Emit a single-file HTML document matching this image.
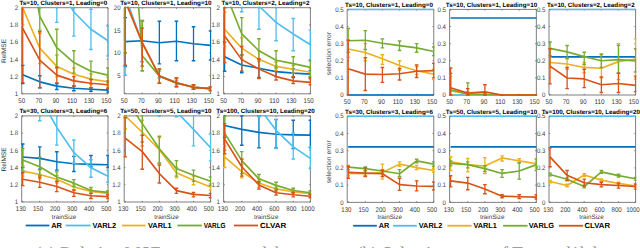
<!DOCTYPE html><html><head><meta charset="utf-8"><style>html,body{margin:0;padding:0;background:#fff;overflow:hidden}svg{display:block}</style></head><body>
<svg width="640" height="248" viewBox="0 0 640 248" font-family="Liberation Sans, sans-serif" text-rendering="geometricPrecision">
<rect width="640" height="248" fill="#fff"/>
<clipPath id="c1"><rect x="20.9" y="6.8" width="87.9" height="87.9"/></clipPath>
<text x="63.35" y="5.2" font-size="6.27" font-weight="bold" text-anchor="middle" fill="#000">Ts=10, Clusters=1, Leading=0</text>
<text x="18.1" y="96" font-size="6.6" text-anchor="end" fill="#404040" textLength="3.38" lengthAdjust="spacingAndGlyphs">1</text>
<text x="18.1" y="78.78" font-size="6.6" text-anchor="end" fill="#404040" textLength="8.46" lengthAdjust="spacingAndGlyphs">1.2</text>
<text x="18.1" y="61.56" font-size="6.6" text-anchor="end" fill="#404040" textLength="8.46" lengthAdjust="spacingAndGlyphs">1.4</text>
<text x="18.1" y="44.34" font-size="6.6" text-anchor="end" fill="#404040" textLength="8.46" lengthAdjust="spacingAndGlyphs">1.6</text>
<text x="18.1" y="27.12" font-size="6.6" text-anchor="end" fill="#404040" textLength="8.46" lengthAdjust="spacingAndGlyphs">1.8</text>
<text x="18.1" y="9.9" font-size="6.6" text-anchor="end" fill="#404040" textLength="3.38" lengthAdjust="spacingAndGlyphs">2</text>
<text x="21.7" y="103.1" font-size="6.8" text-anchor="middle" fill="#404040" textLength="6.76" lengthAdjust="spacingAndGlyphs">50</text>
<text x="38.76" y="103.1" font-size="6.8" text-anchor="middle" fill="#404040" textLength="6.76" lengthAdjust="spacingAndGlyphs">70</text>
<text x="55.82" y="103.1" font-size="6.8" text-anchor="middle" fill="#404040" textLength="6.76" lengthAdjust="spacingAndGlyphs">90</text>
<text x="72.08" y="103.1" font-size="6.8" text-anchor="middle" fill="#404040" textLength="10.14" lengthAdjust="spacingAndGlyphs">110</text>
<text x="89.14" y="103.1" font-size="6.8" text-anchor="middle" fill="#404040" textLength="10.14" lengthAdjust="spacingAndGlyphs">130</text>
<text x="106.2" y="103.1" font-size="6.8" text-anchor="middle" fill="#404040" textLength="10.14" lengthAdjust="spacingAndGlyphs">150</text>
<path d="M21.7 7.7H108V93.8H21.7ZM22.7 93.8v-1.2M22.7 7.7v1.2M39.76 93.8v-1.2M39.76 7.7v1.2M56.82 93.8v-1.2M56.82 7.7v1.2M73.88 93.8v-1.2M73.88 7.7v1.2M90.94 93.8v-1.2M90.94 7.7v1.2M108 93.8v-1.2M108 7.7v1.2M21.7 93.8h1.2M108 93.8h-1.2M21.7 76.58h1.2M108 76.58h-1.2M21.7 59.36h1.2M108 59.36h-1.2M21.7 42.14h1.2M108 42.14h-1.2M21.7 24.92h1.2M108 24.92h-1.2M21.7 7.7h1.2M108 7.7h-1.2" fill="none" stroke="#707070" stroke-width="0.9"/>
<g clip-path="url(#c1)" fill="none" stroke-linecap="butt" stroke-linejoin="round">
<path d="M22.7 83.47V65.39M39.76 87.77V75.72M56.82 89.49V83.47M73.88 90.79V86.05M90.94 91.22V87.77M108 92.08V88.2" stroke="#0072BD" stroke-width="1.3"/>
<path d="M20.9 83.47H24.5M20.9 65.39H24.5M37.96 87.77H41.56M37.96 75.72H41.56M55.02 89.49H58.62M55.02 83.47H58.62M72.08 90.79H75.68M72.08 86.05H75.68M89.14 91.22H92.74M89.14 87.77H92.74M106.2 92.08H109.8M106.2 88.2H109.8" stroke="#0072BD" stroke-width="1.4"/>
<polyline points="22.7,74.69 39.76,81.83 56.82,86.14 73.88,88.2 90.94,89.24 108,90.1" stroke="#0072BD" stroke-width="1.65"/>
<path d="M22.7 -9.52V-78.4M39.76 7.7V-78.4M56.82 22.34V-78.4M73.88 36.11V-35.35M90.94 49.46V9.42M108 55.92V25.78" stroke="#4DBEEE" stroke-width="1.3"/>
<path d="M20.9 -9.52H24.5M20.9 -78.4H24.5M37.96 7.7H41.56M37.96 -78.4H41.56M55.02 22.34H58.62M55.02 -78.4H58.62M72.08 36.11H75.68M72.08 -35.35H75.68M89.14 49.46H92.74M89.14 9.42H92.74M106.2 55.92H109.8M106.2 25.78H109.8" stroke="#4DBEEE" stroke-width="1.4"/>
<polyline points="22.7,-43.96 39.76,-31.05 56.82,-18.13 73.88,12.01 90.94,29.23 108,40.76" stroke="#4DBEEE" stroke-width="1.65"/>
<path d="M22.7 24.92V-9.52M39.76 63.66V33.53M56.82 76.58V55.06M73.88 80.89V67.97M90.94 84.33V74M108 86.05V77.44" stroke="#EDB120" stroke-width="1.3"/>
<path d="M20.9 24.92H24.5M20.9 -9.52H24.5M37.96 63.66H41.56M37.96 33.53H41.56M55.02 76.58H58.62M55.02 55.06H58.62M72.08 80.89H75.68M72.08 67.97H75.68M89.14 84.33H92.74M89.14 74H92.74M106.2 86.05H109.8M106.2 77.44H109.8" stroke="#EDB120" stroke-width="1.4"/>
<polyline points="22.7,7.7 39.76,48.17 56.82,66.42 73.88,74.17 90.94,79.16 108,81.75" stroke="#EDB120" stroke-width="1.65"/>
<path d="M22.7 -0.91V-35.35M39.76 30.09V-0.91M56.82 67.97V29.23M73.88 73.14V50.75M90.94 79.16V61.08M108 82.61V67.97" stroke="#77AC30" stroke-width="1.3"/>
<path d="M20.9 -0.91H24.5M20.9 -35.35H24.5M37.96 30.09H41.56M37.96 -0.91H41.56M55.02 67.97H58.62M55.02 29.23H58.62M72.08 73.14H75.68M72.08 50.75H75.68M89.14 79.16H92.74M89.14 61.08H92.74M106.2 82.61H109.8M106.2 67.97H109.8" stroke="#77AC30" stroke-width="1.4"/>
<polyline points="22.7,-76.68 39.76,16.31 56.82,47.74 73.88,62.55 90.94,71.24 108,75.12" stroke="#77AC30" stroke-width="1.65"/>
<path d="M22.7 82.61V-35.35M39.76 87.77V31.81M56.82 82.87V67.11M73.88 86.05V76.58M90.94 87.77V79.59M108 88.63V80.89" stroke="#D95319" stroke-width="1.3"/>
<path d="M20.9 82.61H24.5M20.9 -35.35H24.5M37.96 87.77H41.56M37.96 31.81H41.56M55.02 82.87H58.62M55.02 67.11H58.62M72.08 86.05H75.68M72.08 76.58H75.68M89.14 87.77H92.74M89.14 79.59H92.74M106.2 88.63H109.8M106.2 80.89H109.8" stroke="#D95319" stroke-width="1.4"/>
<polyline points="22.7,28.36 39.76,60.05 56.82,75.12 73.88,80.89 90.94,83.21 108,84.76" stroke="#D95319" stroke-width="1.65"/>
</g>
<clipPath id="c2"><rect x="123.4" y="6.8" width="88" height="87.9"/></clipPath>
<text x="165.9" y="5.2" font-size="6.27" font-weight="bold" text-anchor="middle" fill="#000">Ts=10, Clusters=1, Leading=10</text>
<text x="120.6" y="77.87" font-size="6.6" text-anchor="end" fill="#404040" textLength="3.38" lengthAdjust="spacingAndGlyphs">5</text>
<text x="120.6" y="55.22" font-size="6.6" text-anchor="end" fill="#404040" textLength="6.76" lengthAdjust="spacingAndGlyphs">10</text>
<text x="120.6" y="32.56" font-size="6.6" text-anchor="end" fill="#404040" textLength="6.76" lengthAdjust="spacingAndGlyphs">15</text>
<text x="120.6" y="9.9" font-size="6.6" text-anchor="end" fill="#404040" textLength="6.76" lengthAdjust="spacingAndGlyphs">20</text>
<text x="124.2" y="103.1" font-size="6.8" text-anchor="middle" fill="#404040" textLength="6.76" lengthAdjust="spacingAndGlyphs">50</text>
<text x="141.28" y="103.1" font-size="6.8" text-anchor="middle" fill="#404040" textLength="6.76" lengthAdjust="spacingAndGlyphs">70</text>
<text x="158.36" y="103.1" font-size="6.8" text-anchor="middle" fill="#404040" textLength="6.76" lengthAdjust="spacingAndGlyphs">90</text>
<text x="174.64" y="103.1" font-size="6.8" text-anchor="middle" fill="#404040" textLength="10.14" lengthAdjust="spacingAndGlyphs">110</text>
<text x="191.72" y="103.1" font-size="6.8" text-anchor="middle" fill="#404040" textLength="10.14" lengthAdjust="spacingAndGlyphs">130</text>
<text x="208.8" y="103.1" font-size="6.8" text-anchor="middle" fill="#404040" textLength="10.14" lengthAdjust="spacingAndGlyphs">150</text>
<path d="M124.2 7.7H210.6V93.8H124.2ZM125.2 93.8v-1.2M125.2 7.7v1.2M142.28 93.8v-1.2M142.28 7.7v1.2M159.36 93.8v-1.2M159.36 7.7v1.2M176.44 93.8v-1.2M176.44 7.7v1.2M193.52 93.8v-1.2M193.52 7.7v1.2M210.6 93.8v-1.2M210.6 7.7v1.2M124.2 75.67h1.2M210.6 75.67h-1.2M124.2 53.02h1.2M210.6 53.02h-1.2M124.2 30.36h1.2M210.6 30.36h-1.2M124.2 7.7h1.2M210.6 7.7h-1.2" fill="none" stroke="#707070" stroke-width="0.9"/>
<g clip-path="url(#c2)" fill="none" stroke-linecap="butt" stroke-linejoin="round">
<path d="M125.2 66.43V17.67M142.28 61.63V20.39M159.36 63.89V21.29M176.44 60.72V21.29M193.52 60.72V26.73M210.6 60.04V31.04" stroke="#0072BD" stroke-width="1.3"/>
<path d="M123.4 66.43H127M123.4 17.67H127M140.48 61.63H144.08M140.48 20.39H144.08M157.56 63.89H161.16M157.56 21.29H161.16M174.64 60.72H178.24M174.64 21.29H178.24M191.72 60.72H195.32M191.72 26.73H195.32M208.8 60.04H212.4M208.8 31.04H212.4" stroke="#0072BD" stroke-width="1.4"/>
<polyline points="125.2,41.69 142.28,40.78 159.36,42.73 176.44,41.23 193.52,43.73 210.6,45.31" stroke="#0072BD" stroke-width="1.65"/>
<path d="M125.2 75.22V-82.93M142.28 61.63V20.84M159.36 77.94V71.14M176.44 84.74V80.21M193.52 89.27V85.19M210.6 90.63V87" stroke="#4DBEEE" stroke-width="1.3"/>
<path d="M123.4 75.22H127M123.4 -82.93H127M140.48 61.63H144.08M140.48 20.84H144.08M157.56 77.94H161.16M157.56 71.14H161.16M174.64 84.74H178.24M174.64 80.21H178.24M191.72 89.27H195.32M191.72 85.19H195.32M208.8 90.63H212.4M208.8 87H212.4" stroke="#4DBEEE" stroke-width="1.4"/>
<polyline points="125.2,-3.63 142.28,43.05 159.36,75.67 176.44,82.88 193.52,87.32 210.6,88.68" stroke="#4DBEEE" stroke-width="1.65"/>
<path d="M125.2 53.02V-82.93M142.28 71.14V21.29M159.36 82.47V69.78M176.44 86.55V78.39M193.52 89.27V84.74M210.6 90.63V87" stroke="#EDB120" stroke-width="1.3"/>
<path d="M123.4 53.02H127M123.4 -82.93H127M140.48 71.14H144.08M140.48 21.29H144.08M157.56 82.47H161.16M157.56 69.78H161.16M174.64 86.55H178.24M174.64 78.39H178.24M191.72 89.27H195.32M191.72 84.74H195.32M208.8 90.63H212.4M208.8 87H212.4" stroke="#EDB120" stroke-width="1.4"/>
<polyline points="125.2,0.9 142.28,43.05 159.36,76.13 176.44,82.88 193.52,87.32 210.6,88.68" stroke="#EDB120" stroke-width="1.65"/>
<path d="M125.2 53.02V-82.93M142.28 70.69V21.29M159.36 83.38V68.88M176.44 86.78V77.94M193.52 89.27V84.74M210.6 90.63V86.78" stroke="#77AC30" stroke-width="1.3"/>
<path d="M123.4 53.02H127M123.4 -82.93H127M140.48 70.69H144.08M140.48 21.29H144.08M157.56 83.38H161.16M157.56 68.88H161.16M174.64 86.78H178.24M174.64 77.94H178.24M191.72 89.27H195.32M191.72 84.74H195.32M208.8 90.63H212.4M208.8 86.78H212.4" stroke="#77AC30" stroke-width="1.4"/>
<polyline points="125.2,-173.56 142.28,55.73 159.36,76.13 176.44,82.88 193.52,87.32 210.6,88.68" stroke="#77AC30" stroke-width="1.65"/>
<path d="M125.2 65.25V-82.93M142.28 66.16V28.09M159.36 83.38V68.88M176.44 86.78V77.94M193.52 89.27V84.74M210.6 90.63V86.78" stroke="#D95319" stroke-width="1.3"/>
<path d="M123.4 65.25H127M123.4 -82.93H127M140.48 66.16H144.08M140.48 28.09H144.08M157.56 83.38H161.16M157.56 68.88H161.16M174.64 86.78H178.24M174.64 77.94H178.24M191.72 89.27H195.32M191.72 84.74H195.32M208.8 90.63H212.4M208.8 86.78H212.4" stroke="#D95319" stroke-width="1.4"/>
<polyline points="125.2,0.9 142.28,42.59 159.36,76.08 176.44,82.88 193.52,87.32 210.6,88.68" stroke="#D95319" stroke-width="1.65"/>
</g>
<clipPath id="c3"><rect x="222.8" y="6.8" width="88.4" height="87.9"/></clipPath>
<text x="265.5" y="5.2" font-size="6.27" font-weight="bold" text-anchor="middle" fill="#000">Ts=10, Clusters=2, Leading=2</text>
<text x="220" y="96" font-size="6.6" text-anchor="end" fill="#404040" textLength="3.38" lengthAdjust="spacingAndGlyphs">1</text>
<text x="220" y="78.78" font-size="6.6" text-anchor="end" fill="#404040" textLength="8.46" lengthAdjust="spacingAndGlyphs">1.2</text>
<text x="220" y="61.56" font-size="6.6" text-anchor="end" fill="#404040" textLength="8.46" lengthAdjust="spacingAndGlyphs">1.4</text>
<text x="220" y="44.34" font-size="6.6" text-anchor="end" fill="#404040" textLength="8.46" lengthAdjust="spacingAndGlyphs">1.6</text>
<text x="220" y="27.12" font-size="6.6" text-anchor="end" fill="#404040" textLength="8.46" lengthAdjust="spacingAndGlyphs">1.8</text>
<text x="220" y="9.9" font-size="6.6" text-anchor="end" fill="#404040" textLength="3.38" lengthAdjust="spacingAndGlyphs">2</text>
<text x="223.6" y="103.1" font-size="6.8" text-anchor="middle" fill="#404040" textLength="6.76" lengthAdjust="spacingAndGlyphs">50</text>
<text x="240.76" y="103.1" font-size="6.8" text-anchor="middle" fill="#404040" textLength="6.76" lengthAdjust="spacingAndGlyphs">70</text>
<text x="257.92" y="103.1" font-size="6.8" text-anchor="middle" fill="#404040" textLength="6.76" lengthAdjust="spacingAndGlyphs">90</text>
<text x="274.28" y="103.1" font-size="6.8" text-anchor="middle" fill="#404040" textLength="10.14" lengthAdjust="spacingAndGlyphs">110</text>
<text x="291.44" y="103.1" font-size="6.8" text-anchor="middle" fill="#404040" textLength="10.14" lengthAdjust="spacingAndGlyphs">130</text>
<text x="308.6" y="103.1" font-size="6.8" text-anchor="middle" fill="#404040" textLength="10.14" lengthAdjust="spacingAndGlyphs">150</text>
<path d="M223.6 7.7H310.4V93.8H223.6ZM224.6 93.8v-1.2M224.6 7.7v1.2M241.76 93.8v-1.2M241.76 7.7v1.2M258.92 93.8v-1.2M258.92 7.7v1.2M276.08 93.8v-1.2M276.08 7.7v1.2M293.24 93.8v-1.2M293.24 7.7v1.2M310.4 93.8v-1.2M310.4 7.7v1.2M223.6 93.8h1.2M310.4 93.8h-1.2M223.6 76.58h1.2M310.4 76.58h-1.2M223.6 59.36h1.2M310.4 59.36h-1.2M223.6 42.14h1.2M310.4 42.14h-1.2M223.6 24.92h1.2M310.4 24.92h-1.2M223.6 7.7h1.2M310.4 7.7h-1.2" fill="none" stroke="#707070" stroke-width="0.9"/>
<g clip-path="url(#c3)" fill="none" stroke-linecap="butt" stroke-linejoin="round">
<path d="M224.6 71.24V42.14M241.76 72.79V55.06M258.92 77.44V59.36M276.08 76.58V66.25M293.24 77.44V68.83M310.4 77.44V70.55" stroke="#0072BD" stroke-width="1.3"/>
<path d="M222.8 71.24H226.4M222.8 42.14H226.4M239.96 72.79H243.56M239.96 55.06H243.56M257.12 77.44H260.72M257.12 59.36H260.72M274.28 76.58H277.88M274.28 66.25H277.88M291.44 77.44H295.04M291.44 68.83H295.04M308.6 77.44H312.2M308.6 70.55H312.2" stroke="#0072BD" stroke-width="1.4"/>
<polyline points="224.6,56.69 241.76,65.04 258.92,68.31 276.08,71.59 293.24,73.14 310.4,74.08" stroke="#0072BD" stroke-width="1.65"/>
<path d="M224.6 -0.91V-52.57M241.76 11.75V-35.35M258.92 29.23V-18.13M276.08 40.76V3.4M293.24 50.75V18.55M310.4 61.08V30.09" stroke="#4DBEEE" stroke-width="1.3"/>
<path d="M222.8 -0.91H226.4M222.8 -52.57H226.4M239.96 11.75H243.56M239.96 -35.35H243.56M257.12 29.23H260.72M257.12 -18.13H260.72M274.28 40.76H277.88M274.28 3.4H277.88M291.44 50.75H295.04M291.44 18.55H295.04M308.6 61.08H312.2M308.6 30.09H312.2" stroke="#4DBEEE" stroke-width="1.4"/>
<polyline points="224.6,-26.74 241.76,-9.52 258.92,5.98 276.08,22.34 293.24,33.96 310.4,44.72" stroke="#4DBEEE" stroke-width="1.65"/>
<path d="M224.6 46.44V12.01M241.76 59.36V37.84M258.92 67.97V50.75M276.08 70.55V61.94M293.24 73.14V65.39M310.4 76.58V67.97" stroke="#EDB120" stroke-width="1.3"/>
<path d="M222.8 46.44H226.4M222.8 12.01H226.4M239.96 59.36H243.56M239.96 37.84H243.56M257.12 67.97H260.72M257.12 50.75H260.72M274.28 70.55H277.88M274.28 61.94H277.88M291.44 73.14H295.04M291.44 65.39H295.04M308.6 76.58H312.2M308.6 67.97H312.2" stroke="#EDB120" stroke-width="1.4"/>
<polyline points="224.6,29.23 241.76,48.17 258.92,59.36 276.08,66.42 293.24,69.26 310.4,72.28" stroke="#EDB120" stroke-width="1.65"/>
<path d="M224.6 7.7V-26.74M241.76 55.06V17.6M258.92 61.08V38.7M276.08 67.97V50.75M293.24 73.14V56.78M310.4 76.58V60.22" stroke="#77AC30" stroke-width="1.3"/>
<path d="M222.8 7.7H226.4M222.8 -26.74H226.4M239.96 55.06H243.56M239.96 17.6H243.56M257.12 61.08H260.72M257.12 38.7H260.72M274.28 67.97H277.88M274.28 50.75H277.88M291.44 73.14H295.04M291.44 56.78H295.04M308.6 76.58H312.2M308.6 60.22H312.2" stroke="#77AC30" stroke-width="1.4"/>
<polyline points="224.6,-9.52 241.76,33.96 258.92,50.75 276.08,60.22 293.24,63.66 310.4,67.37" stroke="#77AC30" stroke-width="1.65"/>
<path d="M224.6 62.55V-9.52M241.76 71.24V46.44M258.92 78.56V58.67M276.08 80.02V71.41M293.24 83.47V76.58M310.4 84.76V78.73" stroke="#D95319" stroke-width="1.3"/>
<path d="M222.8 62.55H226.4M222.8 -9.52H226.4M239.96 71.24H243.56M239.96 46.44H243.56M257.12 78.56H260.72M257.12 58.67H260.72M274.28 80.02H277.88M274.28 71.41H277.88M291.44 83.47H295.04M291.44 76.58H295.04M308.6 84.76H312.2M308.6 78.73H312.2" stroke="#D95319" stroke-width="1.4"/>
<polyline points="224.6,36.11 241.76,59.62 258.92,68.92 276.08,76.58 293.24,80.89 310.4,82.43" stroke="#D95319" stroke-width="1.65"/>
</g>
<clipPath id="c4"><rect x="20.9" y="115" width="87.9" height="87.9"/></clipPath>
<text x="63.35" y="113.4" font-size="6.27" font-weight="bold" text-anchor="middle" fill="#000">Ts=30, Clusters=3, Leading=6</text>
<text x="18.1" y="204.2" font-size="6.6" text-anchor="end" fill="#404040" textLength="3.38" lengthAdjust="spacingAndGlyphs">1</text>
<text x="18.1" y="186.98" font-size="6.6" text-anchor="end" fill="#404040" textLength="8.46" lengthAdjust="spacingAndGlyphs">1.2</text>
<text x="18.1" y="169.76" font-size="6.6" text-anchor="end" fill="#404040" textLength="8.46" lengthAdjust="spacingAndGlyphs">1.4</text>
<text x="18.1" y="152.54" font-size="6.6" text-anchor="end" fill="#404040" textLength="8.46" lengthAdjust="spacingAndGlyphs">1.6</text>
<text x="18.1" y="135.32" font-size="6.6" text-anchor="end" fill="#404040" textLength="8.46" lengthAdjust="spacingAndGlyphs">1.8</text>
<text x="18.1" y="118.1" font-size="6.6" text-anchor="end" fill="#404040" textLength="3.38" lengthAdjust="spacingAndGlyphs">2</text>
<text x="20.9" y="211.3" font-size="6.8" text-anchor="middle" fill="#404040" textLength="10.14" lengthAdjust="spacingAndGlyphs">130</text>
<text x="37.96" y="211.3" font-size="6.8" text-anchor="middle" fill="#404040" textLength="10.14" lengthAdjust="spacingAndGlyphs">150</text>
<text x="55.02" y="211.3" font-size="6.8" text-anchor="middle" fill="#404040" textLength="10.14" lengthAdjust="spacingAndGlyphs">200</text>
<text x="72.08" y="211.3" font-size="6.8" text-anchor="middle" fill="#404040" textLength="10.14" lengthAdjust="spacingAndGlyphs">300</text>
<text x="89.14" y="211.3" font-size="6.8" text-anchor="middle" fill="#404040" textLength="10.14" lengthAdjust="spacingAndGlyphs">400</text>
<text x="106.2" y="211.3" font-size="6.8" text-anchor="middle" fill="#404040" textLength="10.14" lengthAdjust="spacingAndGlyphs">500</text>
<text x="64.05" y="219" font-size="6.3" text-anchor="middle" fill="#404040">trainSize</text>
<path d="M21.7 115.9H108V202H21.7ZM22.7 202v-1.2M22.7 115.9v1.2M39.76 202v-1.2M39.76 115.9v1.2M56.82 202v-1.2M56.82 115.9v1.2M73.88 202v-1.2M73.88 115.9v1.2M90.94 202v-1.2M90.94 115.9v1.2M108 202v-1.2M108 115.9v1.2M21.7 202h1.2M108 202h-1.2M21.7 184.78h1.2M108 184.78h-1.2M21.7 167.56h1.2M108 167.56h-1.2M21.7 150.34h1.2M108 150.34h-1.2M21.7 133.12h1.2M108 133.12h-1.2M21.7 115.9h1.2M108 115.9h-1.2" fill="none" stroke="#707070" stroke-width="0.9"/>
<g clip-path="url(#c4)" fill="none" stroke-linecap="butt" stroke-linejoin="round">
<path d="M22.7 167.56V143.97M39.76 169.28V146.9M56.82 170.14V151.72M73.88 171.52V156.37M90.94 166.7V155.51M108 167.56V155.51" stroke="#0072BD" stroke-width="1.3"/>
<path d="M20.9 167.56H24.5M20.9 143.97H24.5M37.96 169.28H41.56M37.96 146.9H41.56M55.02 170.14H58.62M55.02 151.72H58.62M72.08 171.52H75.68M72.08 156.37H75.68M89.14 166.7H92.74M89.14 155.51H92.74M106.2 167.56H109.8M106.2 155.51H109.8" stroke="#0072BD" stroke-width="1.4"/>
<polyline points="22.7,156.97 39.76,158.35 56.82,161.79 73.88,163.77 90.94,164.37 108,164.72" stroke="#0072BD" stroke-width="1.65"/>
<path d="M22.7 107.29V72.85M39.76 120.72V90.07M56.82 145.17V107.29M73.88 163.25V140.01M90.94 177.29V159.81M108 182.2V170.14" stroke="#4DBEEE" stroke-width="1.3"/>
<path d="M20.9 107.29H24.5M20.9 72.85H24.5M37.96 120.72H41.56M37.96 90.07H41.56M55.02 145.17H58.62M55.02 107.29H58.62M72.08 163.25H75.68M72.08 140.01H75.68M89.14 177.29H92.74M89.14 159.81H92.74M106.2 182.2H109.8M106.2 170.14H109.8" stroke="#4DBEEE" stroke-width="1.4"/>
<polyline points="22.7,64.24 39.76,96.96 56.82,127.44 73.88,152.66 90.94,167.65 108,176.34" stroke="#4DBEEE" stroke-width="1.65"/>
<path d="M22.7 176.17V165.84M39.76 178.75V170.14M56.82 183.06V175.31M73.88 189.95V183.92M90.94 193.39V189.09M108 195.11V191.67" stroke="#EDB120" stroke-width="1.3"/>
<path d="M20.9 176.17H24.5M20.9 165.84H24.5M37.96 178.75H41.56M37.96 170.14H41.56M55.02 183.06H58.62M55.02 175.31H58.62M72.08 189.95H75.68M72.08 183.92H75.68M89.14 193.39H92.74M89.14 189.09H92.74M106.2 195.11H109.8M106.2 191.67H109.8" stroke="#EDB120" stroke-width="1.4"/>
<polyline points="22.7,171.09 39.76,174.45 56.82,179.27 73.88,187.02 90.94,191.41 108,193.39" stroke="#EDB120" stroke-width="1.65"/>
<path d="M22.7 171V148.62M39.76 175.31V157.23M56.82 181.34V171.87M73.88 186.5V179.61M90.94 193.39V187.36M108 194.25V190.81" stroke="#77AC30" stroke-width="1.3"/>
<path d="M20.9 171H24.5M20.9 148.62H24.5M37.96 175.31H41.56M37.96 157.23H41.56M55.02 181.34H58.62M55.02 171.87H58.62M72.08 186.5H75.68M72.08 179.61H75.68M89.14 193.39H92.74M89.14 187.36H92.74M106.2 194.25H109.8M106.2 190.81H109.8" stroke="#77AC30" stroke-width="1.4"/>
<polyline points="22.7,159.9 39.76,166.7 56.82,176.94 73.88,183.14 90.94,190.46 108,192.44" stroke="#77AC30" stroke-width="1.65"/>
<path d="M22.7 185.64V172.73M39.76 187.36V177.03M56.82 191.67V181.34M73.88 196.4V189.95M90.94 198.56V193.39M108 198.56V194.68" stroke="#D95319" stroke-width="1.3"/>
<path d="M20.9 185.64H24.5M20.9 172.73H24.5M37.96 187.36H41.56M37.96 177.03H41.56M55.02 191.67H58.62M55.02 181.34H58.62M72.08 196.4H75.68M72.08 189.95H75.68M89.14 198.56H92.74M89.14 193.39H92.74M106.2 198.56H109.8M106.2 194.68H109.8" stroke="#D95319" stroke-width="1.4"/>
<polyline points="22.7,179.27 39.76,182.2 56.82,186.5 73.88,192.79 90.94,195.71 108,196.66" stroke="#D95319" stroke-width="1.65"/>
</g>
<clipPath id="c5"><rect x="123.4" y="115" width="88" height="87.9"/></clipPath>
<text x="165.9" y="113.4" font-size="6.27" font-weight="bold" text-anchor="middle" fill="#000">Ts=50, Clusters=5, Leading=10</text>
<text x="120.6" y="204.2" font-size="6.6" text-anchor="end" fill="#404040" textLength="3.38" lengthAdjust="spacingAndGlyphs">1</text>
<text x="120.6" y="186.98" font-size="6.6" text-anchor="end" fill="#404040" textLength="8.46" lengthAdjust="spacingAndGlyphs">1.2</text>
<text x="120.6" y="169.76" font-size="6.6" text-anchor="end" fill="#404040" textLength="8.46" lengthAdjust="spacingAndGlyphs">1.4</text>
<text x="120.6" y="152.54" font-size="6.6" text-anchor="end" fill="#404040" textLength="8.46" lengthAdjust="spacingAndGlyphs">1.6</text>
<text x="120.6" y="135.32" font-size="6.6" text-anchor="end" fill="#404040" textLength="8.46" lengthAdjust="spacingAndGlyphs">1.8</text>
<text x="120.6" y="118.1" font-size="6.6" text-anchor="end" fill="#404040" textLength="3.38" lengthAdjust="spacingAndGlyphs">2</text>
<text x="123.4" y="211.3" font-size="6.8" text-anchor="middle" fill="#404040" textLength="10.14" lengthAdjust="spacingAndGlyphs">130</text>
<text x="140.48" y="211.3" font-size="6.8" text-anchor="middle" fill="#404040" textLength="10.14" lengthAdjust="spacingAndGlyphs">150</text>
<text x="157.56" y="211.3" font-size="6.8" text-anchor="middle" fill="#404040" textLength="10.14" lengthAdjust="spacingAndGlyphs">200</text>
<text x="174.64" y="211.3" font-size="6.8" text-anchor="middle" fill="#404040" textLength="10.14" lengthAdjust="spacingAndGlyphs">300</text>
<text x="191.72" y="211.3" font-size="6.8" text-anchor="middle" fill="#404040" textLength="10.14" lengthAdjust="spacingAndGlyphs">400</text>
<text x="208.8" y="211.3" font-size="6.8" text-anchor="middle" fill="#404040" textLength="10.14" lengthAdjust="spacingAndGlyphs">500</text>
<text x="166.6" y="219" font-size="6.3" text-anchor="middle" fill="#404040">trainSize</text>
<path d="M124.2 115.9H210.6V202H124.2ZM125.2 202v-1.2M125.2 115.9v1.2M142.28 202v-1.2M142.28 115.9v1.2M159.36 202v-1.2M159.36 115.9v1.2M176.44 202v-1.2M176.44 115.9v1.2M193.52 202v-1.2M193.52 115.9v1.2M210.6 202v-1.2M210.6 115.9v1.2M124.2 202h1.2M210.6 202h-1.2M124.2 184.78h1.2M210.6 184.78h-1.2M124.2 167.56h1.2M210.6 167.56h-1.2M124.2 150.34h1.2M210.6 150.34h-1.2M124.2 133.12h1.2M210.6 133.12h-1.2M124.2 115.9h1.2M210.6 115.9h-1.2" fill="none" stroke="#707070" stroke-width="0.9"/>
<g clip-path="url(#c5)" fill="none" stroke-linecap="butt" stroke-linejoin="round">
<polyline points="125.2,29.8 142.28,29.8 159.36,29.8 176.44,29.8 193.52,29.8 210.6,29.8" stroke="#0072BD" stroke-width="1.65"/>
<path d="M125.2 98.68V47.02M142.28 107.29V72.85M159.36 115.9V90.07M176.44 116.76V98.68M193.52 145.86V111.6M210.6 160.84V133.98" stroke="#4DBEEE" stroke-width="1.3"/>
<path d="M123.4 98.68H127M123.4 47.02H127M140.48 107.29H144.08M140.48 72.85H144.08M157.56 115.9H161.16M157.56 90.07H161.16M174.64 116.76H178.24M174.64 98.68H178.24M191.72 145.86H195.32M191.72 111.6H195.32M208.8 160.84H212.4M208.8 133.98H212.4" stroke="#4DBEEE" stroke-width="1.4"/>
<polyline points="125.2,72.85 142.28,90.07 159.36,107.29 176.44,111.6 193.52,129.42 210.6,147.76" stroke="#4DBEEE" stroke-width="1.65"/>
<path d="M125.2 128.81V102.99M142.28 146.04V120.21M159.36 163.25V137.43M176.44 177.89V167.56M193.52 184.78V176.17M210.6 189.95V183.92" stroke="#EDB120" stroke-width="1.3"/>
<path d="M123.4 128.81H127M123.4 102.99H127M140.48 146.04H144.08M140.48 120.21H144.08M157.56 163.25H161.16M157.56 137.43H161.16M174.64 177.89H178.24M174.64 167.56H178.24M191.72 184.78H195.32M191.72 176.17H195.32M208.8 189.95H212.4M208.8 183.92H212.4" stroke="#EDB120" stroke-width="1.4"/>
<polyline points="125.2,115.9 142.28,132.26 159.36,149.74 176.44,172.64 193.52,180.3 210.6,187.02" stroke="#EDB120" stroke-width="1.65"/>
<path d="M125.2 115.9V81.46M142.28 141.99V107.29M159.36 163.25V136.22M176.44 176.17V160.67M193.52 181.34V170.14M210.6 185.64V177.03" stroke="#77AC30" stroke-width="1.3"/>
<path d="M123.4 115.9H127M123.4 81.46H127M140.48 141.99H144.08M140.48 107.29H144.08M157.56 163.25H161.16M157.56 136.22H161.16M174.64 176.17H178.24M174.64 160.67H178.24M191.72 181.34H195.32M191.72 170.14H195.32M208.8 185.64H212.4M208.8 177.03H212.4" stroke="#77AC30" stroke-width="1.4"/>
<polyline points="125.2,98.68 142.28,123.65 159.36,148.79 176.44,168.59 193.52,175.31 210.6,181.16" stroke="#77AC30" stroke-width="1.65"/>
<path d="M125.2 156.88V117.79M142.28 169.28V135.19M159.36 183.06V164.98M176.44 193.39V188.22M193.52 196.83V192.53M210.6 197.69V193.39" stroke="#D95319" stroke-width="1.3"/>
<path d="M123.4 156.88H127M123.4 117.79H127M140.48 169.28H144.08M140.48 135.19H144.08M157.56 183.06H161.16M157.56 164.98H161.16M174.64 193.39H178.24M174.64 188.22H178.24M191.72 196.83H195.32M191.72 192.53H195.32M208.8 197.69H212.4M208.8 193.39H212.4" stroke="#D95319" stroke-width="1.4"/>
<polyline points="125.2,138.11 142.28,151.63 159.36,173.59 176.44,190.63 193.52,194.42 210.6,195.46" stroke="#D95319" stroke-width="1.65"/>
</g>
<clipPath id="c6"><rect x="222.8" y="115" width="88.4" height="87.9"/></clipPath>
<text x="265.5" y="113.4" font-size="6.27" font-weight="bold" text-anchor="middle" fill="#000">Ts=100, Clusters=10, Leading=20</text>
<text x="220" y="204.2" font-size="6.6" text-anchor="end" fill="#404040" textLength="3.38" lengthAdjust="spacingAndGlyphs">1</text>
<text x="220" y="186.98" font-size="6.6" text-anchor="end" fill="#404040" textLength="8.46" lengthAdjust="spacingAndGlyphs">1.2</text>
<text x="220" y="169.76" font-size="6.6" text-anchor="end" fill="#404040" textLength="8.46" lengthAdjust="spacingAndGlyphs">1.4</text>
<text x="220" y="152.54" font-size="6.6" text-anchor="end" fill="#404040" textLength="8.46" lengthAdjust="spacingAndGlyphs">1.6</text>
<text x="220" y="135.32" font-size="6.6" text-anchor="end" fill="#404040" textLength="8.46" lengthAdjust="spacingAndGlyphs">1.8</text>
<text x="220" y="118.1" font-size="6.6" text-anchor="end" fill="#404040" textLength="3.38" lengthAdjust="spacingAndGlyphs">2</text>
<text x="222.8" y="211.3" font-size="6.8" text-anchor="middle" fill="#404040" textLength="10.14" lengthAdjust="spacingAndGlyphs">130</text>
<text x="239.96" y="211.3" font-size="6.8" text-anchor="middle" fill="#404040" textLength="10.14" lengthAdjust="spacingAndGlyphs">200</text>
<text x="257.12" y="211.3" font-size="6.8" text-anchor="middle" fill="#404040" textLength="10.14" lengthAdjust="spacingAndGlyphs">400</text>
<text x="274.28" y="211.3" font-size="6.8" text-anchor="middle" fill="#404040" textLength="10.14" lengthAdjust="spacingAndGlyphs">600</text>
<text x="291.44" y="211.3" font-size="6.8" text-anchor="middle" fill="#404040" textLength="10.14" lengthAdjust="spacingAndGlyphs">800</text>
<text x="307.8" y="211.3" font-size="6.8" text-anchor="middle" fill="#404040" textLength="13.52" lengthAdjust="spacingAndGlyphs">1000</text>
<text x="266.2" y="219" font-size="6.3" text-anchor="middle" fill="#404040">trainSize</text>
<path d="M223.6 115.9H310.4V202H223.6ZM224.6 202v-1.2M224.6 115.9v1.2M241.76 202v-1.2M241.76 115.9v1.2M258.92 202v-1.2M258.92 115.9v1.2M276.08 202v-1.2M276.08 115.9v1.2M293.24 202v-1.2M293.24 115.9v1.2M310.4 202v-1.2M310.4 115.9v1.2M223.6 202h1.2M310.4 202h-1.2M223.6 184.78h1.2M310.4 184.78h-1.2M223.6 167.56h1.2M310.4 167.56h-1.2M223.6 150.34h1.2M310.4 150.34h-1.2M223.6 133.12h1.2M310.4 133.12h-1.2M223.6 115.9h1.2M310.4 115.9h-1.2" fill="none" stroke="#707070" stroke-width="0.9"/>
<g clip-path="url(#c6)" fill="none" stroke-linecap="butt" stroke-linejoin="round">
<path d="M224.6 137.43V111.6M241.76 145.26V115.9M258.92 147.84V115.9M276.08 147.84V119.34M293.24 148.62V120.21M310.4 147.84V120.21" stroke="#0072BD" stroke-width="1.3"/>
<path d="M222.8 137.43H226.4M222.8 111.6H226.4M239.96 145.26H243.56M239.96 115.9H243.56M257.12 147.84H260.72M257.12 115.9H260.72M274.28 147.84H277.88M274.28 119.34H277.88M291.44 148.62H295.04M291.44 120.21H295.04M308.6 147.84H312.2M308.6 120.21H312.2" stroke="#0072BD" stroke-width="1.4"/>
<polyline points="224.6,125.54 241.76,129.42 258.92,132.35 276.08,134.24 293.24,134.84 310.4,135.19" stroke="#0072BD" stroke-width="1.65"/>
<path d="M224.6 98.68V47.02M241.76 107.29V72.85M258.92 116.76V90.07M276.08 148.62V119.77M293.24 158.95V133.12M310.4 168.59V146.9" stroke="#4DBEEE" stroke-width="1.3"/>
<path d="M222.8 98.68H226.4M222.8 47.02H226.4M239.96 107.29H243.56M239.96 72.85H243.56M257.12 116.76H260.72M257.12 90.07H260.72M274.28 148.62H277.88M274.28 119.77H277.88M291.44 158.95H295.04M291.44 133.12H295.04M308.6 168.59H312.2M308.6 146.9H312.2" stroke="#4DBEEE" stroke-width="1.4"/>
<polyline points="224.6,72.85 241.76,90.07 258.92,107.29 276.08,130.36 293.24,146.81 310.4,158.43" stroke="#4DBEEE" stroke-width="1.65"/>
<path d="M224.6 167.56V146.04M241.76 177.89V164.98M258.92 187.36V178.75M276.08 191.67V185.64M293.24 193.39V189.95M310.4 195.11V191.67" stroke="#EDB120" stroke-width="1.3"/>
<path d="M222.8 167.56H226.4M222.8 146.04H226.4M239.96 177.89H243.56M239.96 164.98H243.56M257.12 187.36H260.72M257.12 178.75H260.72M274.28 191.67H277.88M274.28 185.64H277.88M291.44 193.39H295.04M291.44 189.95H295.04M308.6 195.11H312.2M308.6 191.67H312.2" stroke="#EDB120" stroke-width="1.4"/>
<polyline points="224.6,156.97 241.76,171.52 258.92,183.06 276.08,188.91 293.24,191.75 310.4,193.73" stroke="#EDB120" stroke-width="1.65"/>
<path d="M224.6 150.34V116.33M241.76 173.59V151.63M258.92 183.06V174.45M276.08 188.22V182.2M293.24 192.53V188.22M310.4 194.25V190.81" stroke="#77AC30" stroke-width="1.3"/>
<path d="M222.8 150.34H226.4M222.8 116.33H226.4M239.96 173.59H243.56M239.96 151.63H243.56M257.12 183.06H260.72M257.12 174.45H260.72M274.28 188.22H277.88M274.28 182.2H277.88M291.44 192.53H295.04M291.44 188.22H295.04M308.6 194.25H312.2M308.6 190.81H312.2" stroke="#77AC30" stroke-width="1.4"/>
<polyline points="224.6,133.12 241.76,160.67 258.92,178.84 276.08,185.38 293.24,190.46 310.4,192.79" stroke="#77AC30" stroke-width="1.65"/>
<path d="M224.6 153.78V123.65M241.76 176.17V158.95M258.92 189.09V181.34M276.08 195.11V189.95M293.24 196.83V192.53M310.4 197.69V194.25" stroke="#D95319" stroke-width="1.3"/>
<path d="M222.8 153.78H226.4M222.8 123.65H226.4M239.96 176.17H243.56M239.96 158.95H243.56M257.12 189.09H260.72M257.12 181.34H260.72M274.28 195.11H277.88M274.28 189.95H277.88M291.44 196.83H295.04M291.44 192.53H295.04M308.6 197.69H312.2M308.6 194.25H312.2" stroke="#D95319" stroke-width="1.4"/>
<polyline points="224.6,139.15 241.76,166.7 258.92,185.04 276.08,192.79 293.24,194.77 310.4,196.23" stroke="#D95319" stroke-width="1.65"/>
</g>
<clipPath id="c7"><rect x="346.4" y="8.5" width="88.15" height="87.4"/></clipPath>
<text x="388.98" y="6.9" font-size="6.27" font-weight="bold" text-anchor="middle" fill="#000">Ts=10, Clusters=1, Leading=0</text>
<text x="343.6" y="97.2" font-size="6.6" text-anchor="end" fill="#404040" textLength="3.38" lengthAdjust="spacingAndGlyphs">0</text>
<text x="343.6" y="80.08" font-size="6.6" text-anchor="end" fill="#404040" textLength="8.46" lengthAdjust="spacingAndGlyphs">0.1</text>
<text x="343.6" y="62.96" font-size="6.6" text-anchor="end" fill="#404040" textLength="8.46" lengthAdjust="spacingAndGlyphs">0.2</text>
<text x="343.6" y="45.84" font-size="6.6" text-anchor="end" fill="#404040" textLength="8.46" lengthAdjust="spacingAndGlyphs">0.3</text>
<text x="343.6" y="28.72" font-size="6.6" text-anchor="end" fill="#404040" textLength="8.46" lengthAdjust="spacingAndGlyphs">0.4</text>
<text x="343.6" y="11.6" font-size="6.6" text-anchor="end" fill="#404040" textLength="8.46" lengthAdjust="spacingAndGlyphs">0.5</text>
<text x="347.2" y="104.3" font-size="6.8" text-anchor="middle" fill="#404040" textLength="6.76" lengthAdjust="spacingAndGlyphs">50</text>
<text x="364.31" y="104.3" font-size="6.8" text-anchor="middle" fill="#404040" textLength="6.76" lengthAdjust="spacingAndGlyphs">70</text>
<text x="381.42" y="104.3" font-size="6.8" text-anchor="middle" fill="#404040" textLength="6.76" lengthAdjust="spacingAndGlyphs">90</text>
<text x="397.73" y="104.3" font-size="6.8" text-anchor="middle" fill="#404040" textLength="10.14" lengthAdjust="spacingAndGlyphs">110</text>
<text x="414.84" y="104.3" font-size="6.8" text-anchor="middle" fill="#404040" textLength="10.14" lengthAdjust="spacingAndGlyphs">130</text>
<text x="431.95" y="104.3" font-size="6.8" text-anchor="middle" fill="#404040" textLength="10.14" lengthAdjust="spacingAndGlyphs">150</text>
<path d="M347.2 9.4H433.75V95H347.2ZM348.2 95v-1.2M348.2 9.4v1.2M365.31 95v-1.2M365.31 9.4v1.2M382.42 95v-1.2M382.42 9.4v1.2M399.53 95v-1.2M399.53 9.4v1.2M416.64 95v-1.2M416.64 9.4v1.2M433.75 95v-1.2M433.75 9.4v1.2M347.2 95h1.2M433.75 95h-1.2M347.2 77.88h1.2M433.75 77.88h-1.2M347.2 60.76h1.2M433.75 60.76h-1.2M347.2 43.64h1.2M433.75 43.64h-1.2M347.2 26.52h1.2M433.75 26.52h-1.2M347.2 9.4h1.2M433.75 9.4h-1.2" fill="none" stroke="#707070" stroke-width="0.9"/>
<g clip-path="url(#c7)" fill="none" stroke-linecap="butt" stroke-linejoin="round">
<polyline points="348.2,95 365.31,95 382.42,95 399.53,95 416.64,95 433.75,95" stroke="#0072BD" stroke-width="1.65"/>
<polyline points="348.2,9.4 365.31,9.4 382.42,9.4 399.53,9.4 416.64,9.4 433.75,9.4" stroke="#4DBEEE" stroke-width="1.65"/>
<path d="M348.2 57.34V40.22M365.31 60.76V43.64M382.42 64.53V54.77M399.53 70.18V60.76M416.64 74.46V66.75M433.75 79.59V69.32" stroke="#EDB120" stroke-width="1.3"/>
<path d="M346.4 57.34H350M346.4 40.22H350M363.51 60.76H367.11M363.51 43.64H367.11M380.62 64.53H384.22M380.62 54.77H384.22M397.73 70.18H401.33M397.73 60.76H401.33M414.84 74.46H418.44M414.84 66.75H418.44M431.95 79.59H435.55M431.95 69.32H435.55" stroke="#EDB120" stroke-width="1.4"/>
<polyline points="348.2,48.95 365.31,52.54 382.42,58.71 399.53,65.55 416.64,70.69 433.75,74.11" stroke="#EDB120" stroke-width="1.65"/>
<path d="M348.2 52.2V28.57M365.31 49.46V30.63M382.42 47.92V38.85M399.53 50.49V41.07M416.64 52.2V43.64M433.75 55.62V47.06" stroke="#77AC30" stroke-width="1.3"/>
<path d="M346.4 52.2H350M346.4 28.57H350M363.51 49.46H367.11M363.51 30.63H367.11M380.62 47.92H384.22M380.62 38.85H384.22M397.73 50.49H401.33M397.73 41.07H401.33M414.84 52.2H418.44M414.84 43.64H418.44M431.95 55.62H435.55M431.95 47.06H435.55" stroke="#77AC30" stroke-width="1.4"/>
<polyline points="348.2,40.73 365.31,40.22 382.42,43.3 399.53,45.69 416.64,47.92 433.75,51.52" stroke="#77AC30" stroke-width="1.65"/>
<path d="M348.2 95V40.22M365.31 90.55V57.68M382.42 82.33V67.44M399.53 79.93V68.46M416.64 77.54V65.04M433.75 77.88V63.33" stroke="#D95319" stroke-width="1.3"/>
<path d="M346.4 95H350M346.4 40.22H350M363.51 90.55H367.11M363.51 57.68H367.11M380.62 82.33H384.22M380.62 67.44H384.22M397.73 79.93H401.33M397.73 68.46H401.33M414.84 77.54H418.44M414.84 65.04H418.44M431.95 77.88H435.55M431.95 63.33H435.55" stroke="#D95319" stroke-width="1.4"/>
<polyline points="348.2,68.81 365.31,74.11 382.42,74.46 399.53,73.77 416.64,71.2 433.75,70.69" stroke="#D95319" stroke-width="1.65"/>
</g>
<clipPath id="c8"><rect x="448.8" y="8.5" width="88.35" height="87.4"/></clipPath>
<text x="491.48" y="6.9" font-size="6.27" font-weight="bold" text-anchor="middle" fill="#000">Ts=10, Clusters=1, Leading=10</text>
<text x="446" y="97.2" font-size="6.6" text-anchor="end" fill="#404040" textLength="3.38" lengthAdjust="spacingAndGlyphs">0</text>
<text x="446" y="80.08" font-size="6.6" text-anchor="end" fill="#404040" textLength="8.46" lengthAdjust="spacingAndGlyphs">0.1</text>
<text x="446" y="62.96" font-size="6.6" text-anchor="end" fill="#404040" textLength="8.46" lengthAdjust="spacingAndGlyphs">0.2</text>
<text x="446" y="45.84" font-size="6.6" text-anchor="end" fill="#404040" textLength="8.46" lengthAdjust="spacingAndGlyphs">0.3</text>
<text x="446" y="28.72" font-size="6.6" text-anchor="end" fill="#404040" textLength="8.46" lengthAdjust="spacingAndGlyphs">0.4</text>
<text x="446" y="11.6" font-size="6.6" text-anchor="end" fill="#404040" textLength="8.46" lengthAdjust="spacingAndGlyphs">0.5</text>
<text x="449.6" y="104.3" font-size="6.8" text-anchor="middle" fill="#404040" textLength="6.76" lengthAdjust="spacingAndGlyphs">50</text>
<text x="466.75" y="104.3" font-size="6.8" text-anchor="middle" fill="#404040" textLength="6.76" lengthAdjust="spacingAndGlyphs">70</text>
<text x="483.9" y="104.3" font-size="6.8" text-anchor="middle" fill="#404040" textLength="6.76" lengthAdjust="spacingAndGlyphs">90</text>
<text x="500.25" y="104.3" font-size="6.8" text-anchor="middle" fill="#404040" textLength="10.14" lengthAdjust="spacingAndGlyphs">110</text>
<text x="517.4" y="104.3" font-size="6.8" text-anchor="middle" fill="#404040" textLength="10.14" lengthAdjust="spacingAndGlyphs">130</text>
<text x="534.55" y="104.3" font-size="6.8" text-anchor="middle" fill="#404040" textLength="10.14" lengthAdjust="spacingAndGlyphs">150</text>
<path d="M449.6 9.4H536.35V95H449.6ZM450.6 95v-1.2M450.6 9.4v1.2M467.75 95v-1.2M467.75 9.4v1.2M484.9 95v-1.2M484.9 9.4v1.2M502.05 95v-1.2M502.05 9.4v1.2M519.2 95v-1.2M519.2 9.4v1.2M536.35 95v-1.2M536.35 9.4v1.2M449.6 95h1.2M536.35 95h-1.2M449.6 77.88h1.2M536.35 77.88h-1.2M449.6 60.76h1.2M536.35 60.76h-1.2M449.6 43.64h1.2M536.35 43.64h-1.2M449.6 26.52h1.2M536.35 26.52h-1.2M449.6 9.4h1.2M536.35 9.4h-1.2" fill="none" stroke="#707070" stroke-width="0.9"/>
<g clip-path="url(#c8)" fill="none" stroke-linecap="butt" stroke-linejoin="round">
<polyline points="450.6,17.96 467.75,17.96 484.9,17.96 502.05,17.96 519.2,17.96 536.35,17.96" stroke="#0072BD" stroke-width="1.65"/>
<polyline points="450.6,95 467.75,95 484.9,95 502.05,95 519.2,95 536.35,95" stroke="#4DBEEE" stroke-width="1.65"/>
<path d="M450.6 95V76.17M467.75 95V91.58M484.9 95V93.29M502.05 95V95M519.2 95V95M536.35 95V95" stroke="#EDB120" stroke-width="1.3"/>
<path d="M448.8 95H452.4M448.8 76.17H452.4M465.95 95H469.55M465.95 91.58H469.55M483.1 95H486.7M483.1 93.29H486.7M500.25 95H503.85M500.25 95H503.85M517.4 95H521M517.4 95H521M534.55 95H538.15M534.55 95H538.15" stroke="#EDB120" stroke-width="1.4"/>
<polyline points="450.6,90.72 467.75,94.14 484.9,94.66 502.05,95 519.2,95 536.35,95" stroke="#EDB120" stroke-width="1.65"/>
<path d="M450.6 95V73.26M467.75 95V82.84M484.9 95V93.29M502.05 95V95M519.2 95V95M536.35 95V95" stroke="#77AC30" stroke-width="1.3"/>
<path d="M448.8 95H452.4M448.8 73.26H452.4M465.95 95H469.55M465.95 82.84H469.55M483.1 95H486.7M483.1 93.29H486.7M500.25 95H503.85M500.25 95H503.85M517.4 95H521M517.4 95H521M534.55 95H538.15M534.55 95H538.15" stroke="#77AC30" stroke-width="1.4"/>
<polyline points="450.6,89.69 467.75,93.97 484.9,94.49 502.05,95 519.2,95 536.35,95" stroke="#77AC30" stroke-width="1.65"/>
<path d="M450.6 95V67.95M467.75 95V88.67M484.9 95V84.73M502.05 95V95M519.2 95V95M536.35 95V95" stroke="#D95319" stroke-width="1.3"/>
<path d="M448.8 95H452.4M448.8 67.95H452.4M465.95 95H469.55M465.95 88.67H469.55M483.1 95H486.7M483.1 84.73H486.7M500.25 95H503.85M500.25 95H503.85M517.4 95H521M517.4 95H521M534.55 95H538.15M534.55 95H538.15" stroke="#D95319" stroke-width="1.4"/>
<polyline points="450.6,87.81 467.75,93.12 484.9,91.92 502.05,95 519.2,95 536.35,95" stroke="#D95319" stroke-width="1.65"/>
</g>
<clipPath id="c9"><rect x="548.2" y="8.5" width="88.2" height="87.4"/></clipPath>
<text x="590.8" y="6.9" font-size="6.27" font-weight="bold" text-anchor="middle" fill="#000">Ts=10, Clusters=2, Leading=2</text>
<text x="545.4" y="97.2" font-size="6.6" text-anchor="end" fill="#404040" textLength="3.38" lengthAdjust="spacingAndGlyphs">0</text>
<text x="545.4" y="80.08" font-size="6.6" text-anchor="end" fill="#404040" textLength="8.46" lengthAdjust="spacingAndGlyphs">0.1</text>
<text x="545.4" y="62.96" font-size="6.6" text-anchor="end" fill="#404040" textLength="8.46" lengthAdjust="spacingAndGlyphs">0.2</text>
<text x="545.4" y="45.84" font-size="6.6" text-anchor="end" fill="#404040" textLength="8.46" lengthAdjust="spacingAndGlyphs">0.3</text>
<text x="545.4" y="28.72" font-size="6.6" text-anchor="end" fill="#404040" textLength="8.46" lengthAdjust="spacingAndGlyphs">0.4</text>
<text x="545.4" y="11.6" font-size="6.6" text-anchor="end" fill="#404040" textLength="8.46" lengthAdjust="spacingAndGlyphs">0.5</text>
<text x="549" y="104.3" font-size="6.8" text-anchor="middle" fill="#404040" textLength="6.76" lengthAdjust="spacingAndGlyphs">50</text>
<text x="566.12" y="104.3" font-size="6.8" text-anchor="middle" fill="#404040" textLength="6.76" lengthAdjust="spacingAndGlyphs">70</text>
<text x="583.24" y="104.3" font-size="6.8" text-anchor="middle" fill="#404040" textLength="6.76" lengthAdjust="spacingAndGlyphs">90</text>
<text x="599.56" y="104.3" font-size="6.8" text-anchor="middle" fill="#404040" textLength="10.14" lengthAdjust="spacingAndGlyphs">110</text>
<text x="616.68" y="104.3" font-size="6.8" text-anchor="middle" fill="#404040" textLength="10.14" lengthAdjust="spacingAndGlyphs">130</text>
<text x="633.8" y="104.3" font-size="6.8" text-anchor="middle" fill="#404040" textLength="10.14" lengthAdjust="spacingAndGlyphs">150</text>
<path d="M549 9.4H635.6V95H549ZM550 95v-1.2M550 9.4v1.2M567.12 95v-1.2M567.12 9.4v1.2M584.24 95v-1.2M584.24 9.4v1.2M601.36 95v-1.2M601.36 9.4v1.2M618.48 95v-1.2M618.48 9.4v1.2M635.6 95v-1.2M635.6 9.4v1.2M549 95h1.2M635.6 95h-1.2M549 77.88h1.2M635.6 77.88h-1.2M549 60.76h1.2M635.6 60.76h-1.2M549 43.64h1.2M635.6 43.64h-1.2M549 26.52h1.2M635.6 26.52h-1.2M549 9.4h1.2M635.6 9.4h-1.2" fill="none" stroke="#707070" stroke-width="0.9"/>
<g clip-path="url(#c9)" fill="none" stroke-linecap="butt" stroke-linejoin="round">
<polyline points="550,56.82 567.12,56.82 584.24,56.82 601.36,56.82 618.48,56.82 635.6,56.82" stroke="#0072BD" stroke-width="1.65"/>
<polyline points="550,9.4 567.12,9.4 584.24,9.4 601.36,9.4 618.48,9.4 635.6,9.4" stroke="#4DBEEE" stroke-width="1.65"/>
<path d="M550 67.61V57.34M567.12 69.32V59.05M584.24 72.74V62.47M601.36 77.88V54.77M618.48 79.59V43.64M635.6 79.08V38.85" stroke="#EDB120" stroke-width="1.3"/>
<path d="M548.2 67.61H551.8M548.2 57.34H551.8M565.32 69.32H568.92M565.32 59.05H568.92M582.44 72.74H586.04M582.44 62.47H586.04M599.56 77.88H603.16M599.56 54.77H603.16M616.68 79.59H620.28M616.68 43.64H620.28M633.8 79.08H637.4M633.8 38.85H637.4" stroke="#EDB120" stroke-width="1.4"/>
<polyline points="550,62.47 567.12,64.01 584.24,67.44 601.36,68.29 618.48,61.62 635.6,59.05" stroke="#EDB120" stroke-width="1.65"/>
<path d="M550 55.62V41.93M567.12 58.19V45.52M584.24 64.53V52.2M601.36 67.44V53.91M618.48 73.26V45.35M635.6 72.06V48.78" stroke="#77AC30" stroke-width="1.3"/>
<path d="M548.2 55.62H551.8M548.2 41.93H551.8M565.32 58.19H568.92M565.32 45.52H568.92M582.44 64.53H586.04M582.44 52.2H586.04M599.56 67.44H603.16M599.56 53.91H603.16M616.68 73.26H620.28M616.68 45.35H620.28M633.8 72.06H637.4M633.8 48.78H637.4" stroke="#77AC30" stroke-width="1.4"/>
<polyline points="550,48.43 567.12,51.86 584.24,56.65 601.36,60.76 618.48,59.56 635.6,60.93" stroke="#77AC30" stroke-width="1.65"/>
<path d="M550 83.87V48.78M567.12 88.67V67.44M584.24 87.64V69.32M601.36 92.43V77.02M618.48 92.43V73.09M635.6 91.58V76.17" stroke="#D95319" stroke-width="1.3"/>
<path d="M548.2 83.87H551.8M548.2 48.78H551.8M565.32 88.67H568.92M565.32 67.44H568.92M582.44 87.64H586.04M582.44 69.32H586.04M599.56 92.43H603.16M599.56 77.02H603.16M616.68 92.43H620.28M616.68 73.09H620.28M633.8 91.58H637.4M633.8 76.17H637.4" stroke="#D95319" stroke-width="1.4"/>
<polyline points="550,66.07 567.12,78.05 584.24,78.91 601.36,84.73 618.48,83.53 635.6,85.41" stroke="#D95319" stroke-width="1.65"/>
</g>
<clipPath id="c10"><rect x="346.4" y="115.3" width="88.15" height="88"/></clipPath>
<text x="388.98" y="113.7" font-size="6.27" font-weight="bold" text-anchor="middle" fill="#000">Ts=30, Clusters=3, Leading=6</text>
<text x="343.6" y="204.6" font-size="6.6" text-anchor="end" fill="#404040" textLength="3.38" lengthAdjust="spacingAndGlyphs">0</text>
<text x="343.6" y="187.36" font-size="6.6" text-anchor="end" fill="#404040" textLength="8.46" lengthAdjust="spacingAndGlyphs">0.1</text>
<text x="343.6" y="170.12" font-size="6.6" text-anchor="end" fill="#404040" textLength="8.46" lengthAdjust="spacingAndGlyphs">0.2</text>
<text x="343.6" y="152.88" font-size="6.6" text-anchor="end" fill="#404040" textLength="8.46" lengthAdjust="spacingAndGlyphs">0.3</text>
<text x="343.6" y="135.64" font-size="6.6" text-anchor="end" fill="#404040" textLength="8.46" lengthAdjust="spacingAndGlyphs">0.4</text>
<text x="343.6" y="118.4" font-size="6.6" text-anchor="end" fill="#404040" textLength="8.46" lengthAdjust="spacingAndGlyphs">0.5</text>
<text x="346.4" y="211.7" font-size="6.8" text-anchor="middle" fill="#404040" textLength="10.14" lengthAdjust="spacingAndGlyphs">130</text>
<text x="363.51" y="211.7" font-size="6.8" text-anchor="middle" fill="#404040" textLength="10.14" lengthAdjust="spacingAndGlyphs">150</text>
<text x="380.62" y="211.7" font-size="6.8" text-anchor="middle" fill="#404040" textLength="10.14" lengthAdjust="spacingAndGlyphs">200</text>
<text x="397.73" y="211.7" font-size="6.8" text-anchor="middle" fill="#404040" textLength="10.14" lengthAdjust="spacingAndGlyphs">300</text>
<text x="414.84" y="211.7" font-size="6.8" text-anchor="middle" fill="#404040" textLength="10.14" lengthAdjust="spacingAndGlyphs">400</text>
<text x="431.95" y="211.7" font-size="6.8" text-anchor="middle" fill="#404040" textLength="10.14" lengthAdjust="spacingAndGlyphs">500</text>
<text x="389.68" y="219.4" font-size="6.3" text-anchor="middle" fill="#404040">trainSize</text>
<path d="M347.2 116.2H433.75V202.4H347.2ZM348.2 202.4v-1.2M348.2 116.2v1.2M365.31 202.4v-1.2M365.31 116.2v1.2M382.42 202.4v-1.2M382.42 116.2v1.2M399.53 202.4v-1.2M399.53 116.2v1.2M416.64 202.4v-1.2M416.64 116.2v1.2M433.75 202.4v-1.2M433.75 116.2v1.2M347.2 202.4h1.2M433.75 202.4h-1.2M347.2 185.16h1.2M433.75 185.16h-1.2M347.2 167.92h1.2M433.75 167.92h-1.2M347.2 150.68h1.2M433.75 150.68h-1.2M347.2 133.44h1.2M433.75 133.44h-1.2M347.2 116.2h1.2M433.75 116.2h-1.2" fill="none" stroke="#707070" stroke-width="0.9"/>
<g clip-path="url(#c10)" fill="none" stroke-linecap="butt" stroke-linejoin="round">
<polyline points="348.2,146.89 365.31,146.89 382.42,146.89 399.53,146.89 416.64,146.89 433.75,146.89" stroke="#0072BD" stroke-width="1.65"/>
<polyline points="348.2,116.2 365.31,116.2 382.42,116.2 399.53,116.2 416.64,116.2 433.75,116.2" stroke="#4DBEEE" stroke-width="1.65"/>
<path d="M348.2 175.68V171.37M365.31 175.68V171.37M382.42 179.13V164.13M399.53 166.2V161.89M416.64 169.64V165.33M433.75 172.23V168.78" stroke="#EDB120" stroke-width="1.3"/>
<path d="M346.4 175.68H350M346.4 171.37H350M363.51 175.68H367.11M363.51 171.37H367.11M380.62 179.13H384.22M380.62 164.13H384.22M397.73 166.2H401.33M397.73 161.89H401.33M414.84 169.64H418.44M414.84 165.33H418.44M431.95 172.23H435.55M431.95 168.78H435.55" stroke="#EDB120" stroke-width="1.4"/>
<polyline points="348.2,173.44 365.31,173.78 382.42,172.4 399.53,164.13 416.64,167.58 433.75,170.51" stroke="#EDB120" stroke-width="1.65"/>
<path d="M348.2 169.64V165.33M365.31 170.51V167.06M382.42 173.09V169.64M399.53 176.54V169.64M416.64 162.75V159.3M433.75 166.2V161.89" stroke="#77AC30" stroke-width="1.3"/>
<path d="M346.4 169.64H350M346.4 165.33H350M363.51 170.51H367.11M363.51 167.06H367.11M380.62 173.09H384.22M380.62 169.64H384.22M397.73 176.54H401.33M397.73 169.64H401.33M414.84 162.75H418.44M414.84 159.3H418.44M431.95 166.2H435.55M431.95 161.89H435.55" stroke="#77AC30" stroke-width="1.4"/>
<polyline points="348.2,167.06 365.31,168.61 382.42,171.02 399.53,173.78 416.64,160.85 433.75,164.13" stroke="#77AC30" stroke-width="1.65"/>
<path d="M348.2 178.26V166.71M365.31 176.54V167.92M382.42 176.54V170.51M399.53 190.33V178.26M416.64 190.85V180.85M433.75 189.99V182.06" stroke="#D95319" stroke-width="1.3"/>
<path d="M346.4 178.26H350M346.4 166.71H350M363.51 176.54H367.11M363.51 167.92H367.11M380.62 176.54H384.22M380.62 170.51H384.22M397.73 190.33H401.33M397.73 178.26H401.33M414.84 190.85H418.44M414.84 180.85H418.44M431.95 189.99H435.55M431.95 182.06H435.55" stroke="#D95319" stroke-width="1.4"/>
<polyline points="348.2,172.4 365.31,173.09 382.42,173.78 399.53,184.64 416.64,186.02 433.75,186.37" stroke="#D95319" stroke-width="1.65"/>
</g>
<clipPath id="c11"><rect x="448.8" y="115.3" width="88.35" height="88"/></clipPath>
<text x="491.48" y="113.7" font-size="6.27" font-weight="bold" text-anchor="middle" fill="#000">Ts=50, Clusters=5, Leading=10</text>
<text x="446" y="204.6" font-size="6.6" text-anchor="end" fill="#404040" textLength="3.38" lengthAdjust="spacingAndGlyphs">0</text>
<text x="446" y="187.36" font-size="6.6" text-anchor="end" fill="#404040" textLength="8.46" lengthAdjust="spacingAndGlyphs">0.1</text>
<text x="446" y="170.12" font-size="6.6" text-anchor="end" fill="#404040" textLength="8.46" lengthAdjust="spacingAndGlyphs">0.2</text>
<text x="446" y="152.88" font-size="6.6" text-anchor="end" fill="#404040" textLength="8.46" lengthAdjust="spacingAndGlyphs">0.3</text>
<text x="446" y="135.64" font-size="6.6" text-anchor="end" fill="#404040" textLength="8.46" lengthAdjust="spacingAndGlyphs">0.4</text>
<text x="446" y="118.4" font-size="6.6" text-anchor="end" fill="#404040" textLength="8.46" lengthAdjust="spacingAndGlyphs">0.5</text>
<text x="448.8" y="211.7" font-size="6.8" text-anchor="middle" fill="#404040" textLength="10.14" lengthAdjust="spacingAndGlyphs">130</text>
<text x="465.95" y="211.7" font-size="6.8" text-anchor="middle" fill="#404040" textLength="10.14" lengthAdjust="spacingAndGlyphs">150</text>
<text x="483.1" y="211.7" font-size="6.8" text-anchor="middle" fill="#404040" textLength="10.14" lengthAdjust="spacingAndGlyphs">200</text>
<text x="500.25" y="211.7" font-size="6.8" text-anchor="middle" fill="#404040" textLength="10.14" lengthAdjust="spacingAndGlyphs">300</text>
<text x="517.4" y="211.7" font-size="6.8" text-anchor="middle" fill="#404040" textLength="10.14" lengthAdjust="spacingAndGlyphs">400</text>
<text x="534.55" y="211.7" font-size="6.8" text-anchor="middle" fill="#404040" textLength="10.14" lengthAdjust="spacingAndGlyphs">500</text>
<text x="492.18" y="219.4" font-size="6.3" text-anchor="middle" fill="#404040">trainSize</text>
<path d="M449.6 116.2H536.35V202.4H449.6ZM450.6 202.4v-1.2M450.6 116.2v1.2M467.75 202.4v-1.2M467.75 116.2v1.2M484.9 202.4v-1.2M484.9 116.2v1.2M502.05 202.4v-1.2M502.05 116.2v1.2M519.2 202.4v-1.2M519.2 116.2v1.2M536.35 202.4v-1.2M536.35 116.2v1.2M449.6 202.4h1.2M536.35 202.4h-1.2M449.6 185.16h1.2M536.35 185.16h-1.2M449.6 167.92h1.2M536.35 167.92h-1.2M449.6 150.68h1.2M536.35 150.68h-1.2M449.6 133.44h1.2M536.35 133.44h-1.2M449.6 116.2h1.2M536.35 116.2h-1.2" fill="none" stroke="#707070" stroke-width="0.9"/>
<g clip-path="url(#c11)" fill="none" stroke-linecap="butt" stroke-linejoin="round">
<polyline points="450.6,146.89 467.75,146.89 484.9,146.89 502.05,146.89 519.2,146.89 536.35,146.89" stroke="#0072BD" stroke-width="1.65"/>
<polyline points="450.6,116.2 467.75,116.2 484.9,116.2 502.05,116.2 519.2,116.2 536.35,116.2" stroke="#4DBEEE" stroke-width="1.65"/>
<path d="M450.6 170.51V156.71M467.75 171.89V158.44M484.9 173.44V157.58M502.05 161.02V155.85M519.2 162.92V158.78M536.35 165.85V161.89" stroke="#EDB120" stroke-width="1.3"/>
<path d="M448.8 170.51H452.4M448.8 156.71H452.4M465.95 171.89H469.55M465.95 158.44H469.55M483.1 173.44H486.7M483.1 157.58H486.7M500.25 161.02H503.85M500.25 155.85H503.85M517.4 162.92H521M517.4 158.78H521M534.55 165.85H538.15M534.55 161.89H538.15" stroke="#EDB120" stroke-width="1.4"/>
<polyline points="450.6,161.89 467.75,164.64 484.9,166.02 502.05,157.92 519.2,160.85 536.35,163.78" stroke="#EDB120" stroke-width="1.65"/>
<path d="M450.6 165.85V161.02M467.75 167.92V161.89M484.9 171.54V165.68M502.05 177.4V169.64M519.2 179.13V162.75M536.35 170.51V158.96" stroke="#77AC30" stroke-width="1.3"/>
<path d="M448.8 165.85H452.4M448.8 161.02H452.4M465.95 167.92H469.55M465.95 161.89H469.55M483.1 171.54H486.7M483.1 165.68H486.7M500.25 177.4H503.85M500.25 169.64H503.85M517.4 179.13H521M517.4 162.75H521M534.55 170.51H538.15M534.55 158.96H538.15" stroke="#77AC30" stroke-width="1.4"/>
<polyline points="450.6,163.35 467.75,164.64 484.9,168.61 502.05,173.44 519.2,171.02 536.35,164.64" stroke="#77AC30" stroke-width="1.65"/>
<path d="M450.6 186.88V175.68M467.75 189.81V177.4M484.9 193.78V184.64M502.05 197.75V194.81M519.2 198.61V194.81M536.35 198.95V194.81" stroke="#D95319" stroke-width="1.3"/>
<path d="M448.8 186.88H452.4M448.8 175.68H452.4M465.95 189.81H469.55M465.95 177.4H469.55M483.1 193.78H486.7M483.1 184.64H486.7M500.25 197.75H503.85M500.25 194.81H503.85M517.4 198.61H521M517.4 194.81H521M534.55 198.95H538.15M534.55 194.81H538.15" stroke="#D95319" stroke-width="1.4"/>
<polyline points="450.6,180.85 467.75,183.09 484.9,188.95 502.05,196.19 519.2,196.71 536.35,197.06" stroke="#D95319" stroke-width="1.65"/>
</g>
<clipPath id="c12"><rect x="548.2" y="115.3" width="88.2" height="88"/></clipPath>
<text x="590.8" y="113.7" font-size="6.27" font-weight="bold" text-anchor="middle" fill="#000">Ts=100, Clusters=10, Leading=20</text>
<text x="545.4" y="204.6" font-size="6.6" text-anchor="end" fill="#404040" textLength="3.38" lengthAdjust="spacingAndGlyphs">0</text>
<text x="545.4" y="187.36" font-size="6.6" text-anchor="end" fill="#404040" textLength="8.46" lengthAdjust="spacingAndGlyphs">0.1</text>
<text x="545.4" y="170.12" font-size="6.6" text-anchor="end" fill="#404040" textLength="8.46" lengthAdjust="spacingAndGlyphs">0.2</text>
<text x="545.4" y="152.88" font-size="6.6" text-anchor="end" fill="#404040" textLength="8.46" lengthAdjust="spacingAndGlyphs">0.3</text>
<text x="545.4" y="135.64" font-size="6.6" text-anchor="end" fill="#404040" textLength="8.46" lengthAdjust="spacingAndGlyphs">0.4</text>
<text x="545.4" y="118.4" font-size="6.6" text-anchor="end" fill="#404040" textLength="8.46" lengthAdjust="spacingAndGlyphs">0.5</text>
<text x="548.2" y="211.7" font-size="6.8" text-anchor="middle" fill="#404040" textLength="10.14" lengthAdjust="spacingAndGlyphs">130</text>
<text x="565.32" y="211.7" font-size="6.8" text-anchor="middle" fill="#404040" textLength="10.14" lengthAdjust="spacingAndGlyphs">200</text>
<text x="582.44" y="211.7" font-size="6.8" text-anchor="middle" fill="#404040" textLength="10.14" lengthAdjust="spacingAndGlyphs">400</text>
<text x="599.56" y="211.7" font-size="6.8" text-anchor="middle" fill="#404040" textLength="10.14" lengthAdjust="spacingAndGlyphs">600</text>
<text x="616.68" y="211.7" font-size="6.8" text-anchor="middle" fill="#404040" textLength="10.14" lengthAdjust="spacingAndGlyphs">800</text>
<text x="633" y="211.7" font-size="6.8" text-anchor="middle" fill="#404040" textLength="13.52" lengthAdjust="spacingAndGlyphs">1000</text>
<text x="591.5" y="219.4" font-size="6.3" text-anchor="middle" fill="#404040">trainSize</text>
<path d="M549 116.2H635.6V202.4H549ZM550 202.4v-1.2M550 116.2v1.2M567.12 202.4v-1.2M567.12 116.2v1.2M584.24 202.4v-1.2M584.24 116.2v1.2M601.36 202.4v-1.2M601.36 116.2v1.2M618.48 202.4v-1.2M618.48 116.2v1.2M635.6 202.4v-1.2M635.6 116.2v1.2M549 202.4h1.2M635.6 202.4h-1.2M549 185.16h1.2M635.6 185.16h-1.2M549 167.92h1.2M635.6 167.92h-1.2M549 150.68h1.2M635.6 150.68h-1.2M549 133.44h1.2M635.6 133.44h-1.2M549 116.2h1.2M635.6 116.2h-1.2" fill="none" stroke="#707070" stroke-width="0.9"/>
<g clip-path="url(#c12)" fill="none" stroke-linecap="butt" stroke-linejoin="round">
<polyline points="550,146.89 567.12,146.89 584.24,146.89 601.36,146.89 618.48,146.89 635.6,146.89" stroke="#0072BD" stroke-width="1.65"/>
<polyline points="550,116.2 567.12,116.2 584.24,116.2 601.36,116.2 618.48,116.2 635.6,116.2" stroke="#4DBEEE" stroke-width="1.65"/>
<path d="M550 182.75V180.33M567.12 186.71V184.3M584.24 176.2V173.78M601.36 181.37V178.95M618.48 184.64V182.23M635.6 187.23V184.82" stroke="#EDB120" stroke-width="1.3"/>
<path d="M548.2 182.75H551.8M548.2 180.33H551.8M565.32 186.71H568.92M565.32 184.3H568.92M582.44 176.2H586.04M582.44 173.78H586.04M599.56 181.37H603.16M599.56 178.95H603.16M616.68 184.64H620.28M616.68 182.23H620.28M633.8 187.23H637.4M633.8 184.82H637.4" stroke="#EDB120" stroke-width="1.4"/>
<polyline points="550,181.54 567.12,185.5 584.24,174.99 601.36,180.16 618.48,183.44 635.6,186.02" stroke="#EDB120" stroke-width="1.65"/>
<path d="M550 175.85V173.09M567.12 180.68V177.92M584.24 187.92V185.16M601.36 173.26V170.51M618.48 177.06V174.3M635.6 180.16V177.4" stroke="#77AC30" stroke-width="1.3"/>
<path d="M548.2 175.85H551.8M548.2 173.09H551.8M565.32 180.68H568.92M565.32 177.92H568.92M582.44 187.92H586.04M582.44 185.16H586.04M599.56 173.26H603.16M599.56 170.51H603.16M616.68 177.06H620.28M616.68 174.3H620.28M633.8 180.16H637.4M633.8 177.4H637.4" stroke="#77AC30" stroke-width="1.4"/>
<polyline points="550,174.47 567.12,179.3 584.24,186.54 601.36,171.89 618.48,175.68 635.6,178.78" stroke="#77AC30" stroke-width="1.65"/>
<path d="M550 166.71V147.75M567.12 180.33V170.51M584.24 186.02V179.13M601.36 186.88V182.23M618.48 188.09V183.09M635.6 189.13V183.95" stroke="#D95319" stroke-width="1.3"/>
<path d="M548.2 166.71H551.8M548.2 147.75H551.8M565.32 180.33H568.92M565.32 170.51H568.92M582.44 186.02H586.04M582.44 179.13H586.04M599.56 186.88H603.16M599.56 182.23H603.16M616.68 188.09H620.28M616.68 183.09H620.28M633.8 189.13H637.4M633.8 183.95H637.4" stroke="#D95319" stroke-width="1.4"/>
<polyline points="550,156.89 567.12,175.33 584.24,182.75 601.36,184.64 618.48,185.5 635.6,186.54" stroke="#D95319" stroke-width="1.65"/>
</g>
<text transform="translate(6.0,51) rotate(-90)" font-size="6.6" text-anchor="middle" fill="#333">RelMSE</text>
<text transform="translate(6.0,159.4) rotate(-90)" font-size="6.6" text-anchor="middle" fill="#333">RelMSE</text>
<text transform="translate(331.3,53.6) rotate(-90)" font-size="6.8" text-anchor="middle" fill="#444">selection error</text>
<text transform="translate(331.3,161.8) rotate(-90)" font-size="6.8" text-anchor="middle" fill="#444">selection error</text>
<line x1="25.65" y1="225.5" x2="49.35" y2="225.5" stroke="#0072BD" stroke-width="1.8"/>
<text x="51.25" y="228.2" font-size="7.4" font-weight="bold" fill="#000" textLength="10.75" lengthAdjust="spacingAndGlyphs">AR</text>
<line x1="65.65" y1="225.5" x2="90.6" y2="225.5" stroke="#4DBEEE" stroke-width="1.8"/>
<text x="92.5" y="228.2" font-size="7.4" font-weight="bold" fill="#000" textLength="23.75" lengthAdjust="spacingAndGlyphs">VARL2</text>
<line x1="121.9" y1="225.5" x2="145.6" y2="225.5" stroke="#EDB120" stroke-width="1.8"/>
<text x="148" y="228.2" font-size="7.4" font-weight="bold" fill="#000" textLength="23.5" lengthAdjust="spacingAndGlyphs">VARL1</text>
<line x1="177.4" y1="225.5" x2="201.85" y2="225.5" stroke="#77AC30" stroke-width="1.8"/>
<text x="203.75" y="228.2" font-size="7.4" font-weight="bold" fill="#000" textLength="21.75" lengthAdjust="spacingAndGlyphs">VARLG</text>
<line x1="233.9" y1="225.5" x2="258.1" y2="225.5" stroke="#D95319" stroke-width="1.8"/>
<text x="260" y="228.2" font-size="7.4" font-weight="bold" fill="#000" textLength="26.25" lengthAdjust="spacingAndGlyphs">CLVAR</text>
<line x1="353.15" y1="225.75" x2="376.85" y2="225.75" stroke="#0072BD" stroke-width="1.8"/>
<text x="378.75" y="228.45" font-size="7.4" font-weight="bold" fill="#000" textLength="10.5" lengthAdjust="spacingAndGlyphs">AR</text>
<line x1="393.15" y1="225.75" x2="416.85" y2="225.75" stroke="#4DBEEE" stroke-width="1.8"/>
<text x="418.75" y="228.45" font-size="7.4" font-weight="bold" fill="#000" textLength="23.5" lengthAdjust="spacingAndGlyphs">VARL2</text>
<line x1="447.4" y1="225.75" x2="471.6" y2="225.75" stroke="#EDB120" stroke-width="1.8"/>
<text x="473.5" y="228.45" font-size="7.4" font-weight="bold" fill="#000" textLength="23.25" lengthAdjust="spacingAndGlyphs">VARL1</text>
<line x1="503.15" y1="225.75" x2="527.6" y2="225.75" stroke="#77AC30" stroke-width="1.8"/>
<text x="528.75" y="228.45" font-size="7.4" font-weight="bold" fill="#000" textLength="25.25" lengthAdjust="spacingAndGlyphs">VARLG</text>
<line x1="558.9" y1="225.75" x2="583.1" y2="225.75" stroke="#D95319" stroke-width="1.8"/>
<text x="584.5" y="228.45" font-size="7.4" font-weight="bold" fill="#000" textLength="25.5" lengthAdjust="spacingAndGlyphs">CLVAR</text>
<text x="35.6" y="259.4" font-family="Liberation Serif, serif" font-size="18" fill="#8c8c8c">(a) Relative MSE com</text>
<text x="262.3" y="259.4" font-family="Liberation Serif, serif" font-size="18" fill="#8c8c8c">l</text>
<text x="274.5" y="259.4" font-family="Liberation Serif, serif" font-size="18" fill="#8c8c8c">l</text>
<text x="356.5" y="259.4" font-family="Liberation Serif, serif" font-size="18" fill="#8c8c8c">(b) Selection error of T</text>
<text x="566.3" y="259.4" font-family="Liberation Serif, serif" font-size="18" fill="#8c8c8c">l</text>
<text x="573" y="259.4" font-family="Liberation Serif, serif" font-size="18" fill="#8c8c8c">i</text>
<text x="579.5" y="259.4" font-family="Liberation Serif, serif" font-size="18" fill="#8c8c8c">l</text>
<text x="592.5" y="259.4" font-family="Liberation Serif, serif" font-size="18" fill="#8c8c8c">l</text>
</svg></body></html>
